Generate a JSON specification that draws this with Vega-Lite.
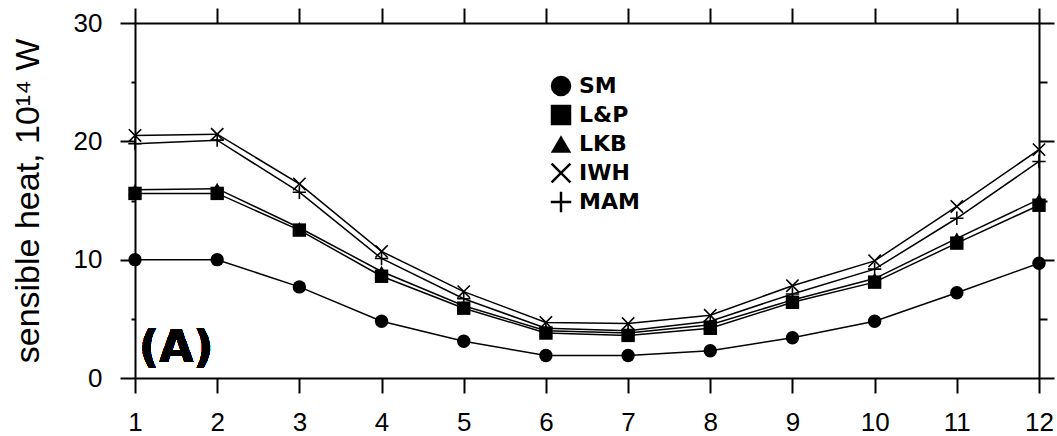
{
  "$schema": "https://vega.github.io/schema/vega-lite/v6.json",
  "width": 904,
  "height": 355,
  "autosize": "none",
  "padding": {"left": 135, "top": 23, "right": 18, "bottom": 58},
  "background": "white",
  "config": {
    "view": {"stroke": null},
    "font": "Liberation Sans",
    "axis": {
      "grid": false,
      "domainColor": "black",
      "domainWidth": 2,
      "tickColor": "black",
      "tickWidth": 2,
      "labelColor": "black",
      "titleColor": "black"
    }
  },
  "data": {
    "values": [
      {"series": "SM", "month": 1, "value": 10.0},
      {"series": "SM", "month": 2, "value": 10.0},
      {"series": "SM", "month": 3, "value": 7.7},
      {"series": "SM", "month": 4, "value": 4.8},
      {"series": "SM", "month": 5, "value": 3.1},
      {"series": "SM", "month": 6, "value": 1.9},
      {"series": "SM", "month": 7, "value": 1.9},
      {"series": "SM", "month": 8, "value": 2.3},
      {"series": "SM", "month": 9, "value": 3.4},
      {"series": "SM", "month": 10, "value": 4.8},
      {"series": "SM", "month": 11, "value": 7.2},
      {"series": "SM", "month": 12, "value": 9.7},
      {"series": "L&P", "month": 1, "value": 15.6},
      {"series": "L&P", "month": 2, "value": 15.6},
      {"series": "L&P", "month": 3, "value": 12.5},
      {"series": "L&P", "month": 4, "value": 8.6},
      {"series": "L&P", "month": 5, "value": 5.9},
      {"series": "L&P", "month": 6, "value": 3.8},
      {"series": "L&P", "month": 7, "value": 3.6},
      {"series": "L&P", "month": 8, "value": 4.2},
      {"series": "L&P", "month": 9, "value": 6.4},
      {"series": "L&P", "month": 10, "value": 8.1},
      {"series": "L&P", "month": 11, "value": 11.4},
      {"series": "L&P", "month": 12, "value": 14.6},
      {"series": "LKB", "month": 1, "value": 15.9},
      {"series": "LKB", "month": 2, "value": 16.0},
      {"series": "LKB", "month": 3, "value": 12.7},
      {"series": "LKB", "month": 4, "value": 9.0},
      {"series": "LKB", "month": 5, "value": 6.1},
      {"series": "LKB", "month": 6, "value": 4.0},
      {"series": "LKB", "month": 7, "value": 3.8},
      {"series": "LKB", "month": 8, "value": 4.5},
      {"series": "LKB", "month": 9, "value": 6.6},
      {"series": "LKB", "month": 10, "value": 8.4},
      {"series": "LKB", "month": 11, "value": 11.8},
      {"series": "LKB", "month": 12, "value": 15.1},
      {"series": "IWH", "month": 1, "value": 20.5},
      {"series": "IWH", "month": 2, "value": 20.6},
      {"series": "IWH", "month": 3, "value": 16.4},
      {"series": "IWH", "month": 4, "value": 10.7},
      {"series": "IWH", "month": 5, "value": 7.3},
      {"series": "IWH", "month": 6, "value": 4.7},
      {"series": "IWH", "month": 7, "value": 4.6},
      {"series": "IWH", "month": 8, "value": 5.3},
      {"series": "IWH", "month": 9, "value": 7.8},
      {"series": "IWH", "month": 10, "value": 9.9},
      {"series": "IWH", "month": 11, "value": 14.5},
      {"series": "IWH", "month": 12, "value": 19.3},
      {"series": "MAM", "month": 1, "value": 19.8},
      {"series": "MAM", "month": 2, "value": 20.1},
      {"series": "MAM", "month": 3, "value": 15.7},
      {"series": "MAM", "month": 4, "value": 10.1},
      {"series": "MAM", "month": 5, "value": 6.7},
      {"series": "MAM", "month": 6, "value": 4.2},
      {"series": "MAM", "month": 7, "value": 4.0},
      {"series": "MAM", "month": 8, "value": 4.8},
      {"series": "MAM", "month": 9, "value": 7.1},
      {"series": "MAM", "month": 10, "value": 9.2},
      {"series": "MAM", "month": 11, "value": 13.5},
      {"series": "MAM", "month": 12, "value": 18.3}
    ]
  },
  "layer": [
    {
      "mark": {"type": "line", "color": "black", "strokeWidth": 1.5},
      "encoding": {
        "x": {
          "field": "month", "type": "quantitative",
          "scale": {"domain": [1, 12], "nice": false, "zero": false},
          "axis": {
            "orient": "bottom", "values": [1,2,3,4,5,6,7,8,9,10,11,12],
            "tickSize": 15, "labelFontSize": 26, "labelPadding": 16,
            "labelFlush": false, "labelOverlap": false, "title": null
          }
        },
        "y": {
          "field": "value", "type": "quantitative",
          "scale": {"domain": [0, 30], "nice": false},
          "axis": {
            "orient": "left", "values": [0,10,20,30],
            "tickSize": 15, "labelAlign": "right",
            "labelFontSize": 26, "labelPadding": 18, "labelFlush": false, "labelOverlap": false,
            "title": "sensible heat, 10¹⁴ W",
            "titleFontSize": 34, "titleFontWeight": "normal", "titlePadding": 28
          }
        },
        "detail": {"field": "series"}
      }
    },
    {
      "mark": {"type": "point", "filled": true, "fill": "black", "strokeWidth": 0, "opacity": 1, "size": 180},
      "encoding": {
        "x": {
          "field": "month", "type": "quantitative",
          "axis": {
            "orient": "top", "values": [1,2,3,4,5,6,7,8,9,10,11,12],
            "tickSize": 15, "labels": false, "title": null
          }
        },
        "y": {
          "field": "value", "type": "quantitative",
          "axis": {
            "orient": "right", "values": [0,5,10,15,20,25,30],
            "tickSize": {"condition": {"test": "datum.value % 10 == 0", "value": 15}, "value": 8},
            "labels": false, "title": null
          }
        },
        "shape": {
          "field": "series", "type": "nominal",
          "scale": {
            "domain": ["SM", "L&P", "LKB", "IWH", "MAM"],
            "range": [
              "circle",
              "square",
              "triangle-up",
              "M-0.834,-1.004L0,-0.17L0.834,-1.004L1.004,-0.834L0.17,0L1.004,0.834L0.834,1.004L0,0.17L-0.834,1.004L-1.004,0.834L-0.17,0L-1.004,-0.834Z",
              "M-1,-0.12L-0.12,-0.12L-0.12,-1L0.12,-1L0.12,-0.12L1,-0.12L1,0.12L0.12,0.12L0.12,1L-0.12,1L-0.12,0.12L-1,0.12Z"
            ]
          },
          "legend": {
            "orient": "none", "legendX": 415, "legendY": 52,
            "title": null, "padding": 0,
            "symbolSize": 420, "symbolFillColor": "black", "symbolStrokeWidth": 0, "symbolOpacity": 1,
            "labelFont": "DejaVu Sans", "labelFontWeight": "bold", "labelFontSize": 22,
            "labelColor": "black", "labelOffset": 7, "rowPadding": 7
          }
        }
      }
    },
    {
      "mark": {"type": "text", "text": "(A)", "font": "DejaVu Sans", "fontWeight": "bold", "fontSize": 44, "align": "left", "baseline": "alphabetic", "fill": "black", "strokeWidth": 0},
      "encoding": {
        "x": {"datum": 1.05, "type": "quantitative", "axis": null},
        "y": {
          "datum": 1.35, "type": "quantitative",
          "axis": {
            "orient": "left", "values": [5, 15, 25], "tickSize": 4,
            "labels": false, "domain": false, "title": null, "offset": 0
          }
        }
      }
    }
  ],
  "resolve": {"axis": {"x": "independent", "y": "independent"}}
}
